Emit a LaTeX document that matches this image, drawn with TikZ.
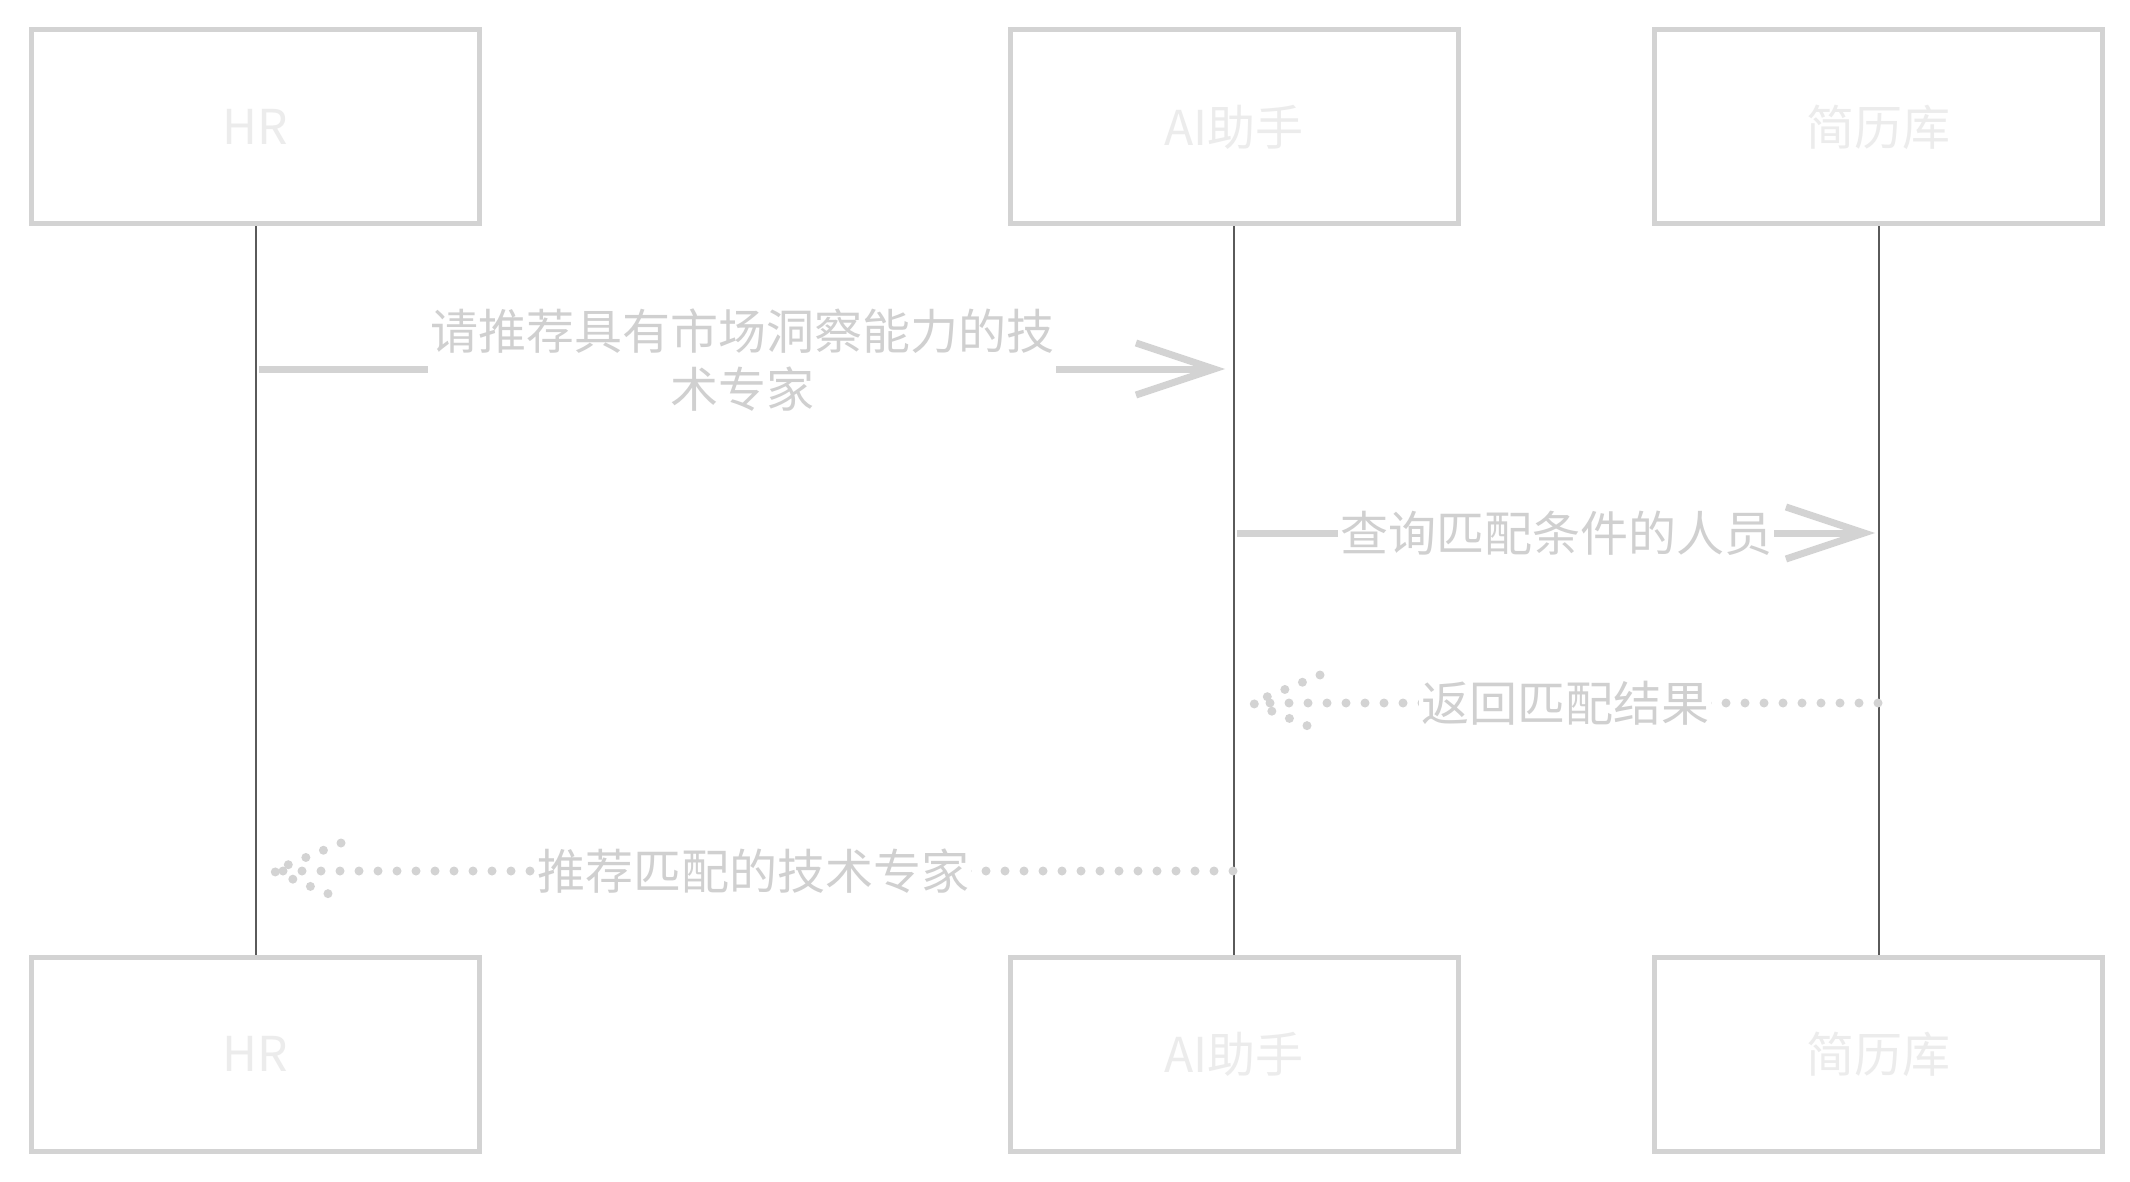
\documentclass[tikz,border=0pt]{standalone}
\usepackage{fontspec}
\setmainfont{Noto Sans CJK SC}
\usetikzlibrary{positioning,arrows.meta,calc}
\definecolor{edge}{HTML}{D3D3D3}
\definecolor{ink}{HTML}{D0D0D0}
\definecolor{faint}{HTML}{ECECEC}
\definecolor{life}{HTML}{5A5A5A}

\begin{document}
\begin{tikzpicture}[
  x=0.5pt, y=-0.5pt,
  actor/.style={draw=edge, line width=2.5pt, fill=white, minimum width=224pt,
    minimum height=97pt, inner sep=0pt, text=faint, font=\fontsize{24}{29}\selectfont},
  lbl/.style={fill=white, inner sep=1pt, text=ink, align=center, font=\fontsize{24}{29}\selectfont},
  msg/.style={draw=edge, line width=3.5pt, -{Straight Barb[length=39pt, width=26pt, line width=3.5pt]}},
  reply/.style={draw=edge, line width=4.5pt, line cap=round, dash pattern=on 0pt off 9.5pt},
  lifeline/.style={draw=life, line width=1pt}
]
  \useasboundingbox (0,0) rectangle (2130,1182);

  % participants, top and bottom
  \node[actor] (hrT) at (255.5,127) {HR};
  \node[actor] (aiT) at (1234,127) {AI助手};
  \node[actor] (dbT) at (1878.5,127) {简历库};
  \node[actor] (hrB) at (255.5,1054) {HR};
  \node[actor] (aiB) at (1234,1054) {AI助手};
  \node[actor] (dbB) at (1878.5,1054) {简历库};

  % lifelines
  \draw[lifeline] (hrT.south) -- (hrB.north);
  \draw[lifeline] (aiT.south) -- (aiB.north);
  \draw[lifeline] (dbT.south) -- (dbB.north);

  % message end points
  \coordinate (m1s) at (259,369);
  \coordinate (m1e) at (1225,369);
  \coordinate (m2s) at (1237,533);
  \coordinate (m2e) at (1875,533);
  \coordinate (r1s) at (1878,703);
  \coordinate (r1e) at (1252,703);
  \coordinate (r2s) at (1233,871);
  \coordinate (r2e) at (273,871);

  \draw[msg] (m1s) -- node[lbl, yshift=4.5pt] {请推荐具有市场洞察能力的技\\术专家} (m1e);
  \draw[msg] (m2s) -- node[lbl] {查询匹配条件的人员} (m2e);

  \draw[reply] (r1s) -- node[lbl] {返回匹配结果} (r1e);
  \draw[reply] ($(r1e)+(68,-28)$) -- (r1e) -- ($(r1e)+(68,28)$);
  \draw[reply] (r2s) -- node[lbl] {推荐匹配的技术专家} (r2e);
  \draw[reply] ($(r2e)+(68,-28)$) -- (r2e) -- ($(r2e)+(68,28)$);

\end{tikzpicture}
\end{document}
